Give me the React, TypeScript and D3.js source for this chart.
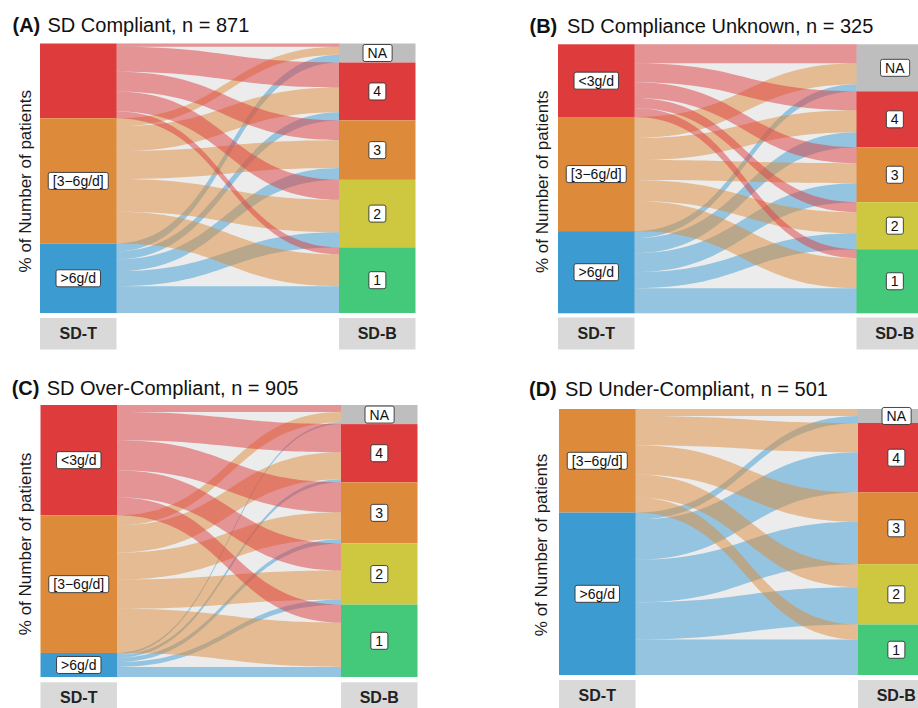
import React, { useEffect, useRef } from "react";
import * as d3 from "d3";

// ---------- data ----------
const fromLevels = ["<3g/d", "[3−6g/d]", ">6g/d"]; // SD-T strata (top to bottom)
const toLevels = ["NA", "4", "3", "2", "1"]; // SD-B strata (top to bottom)
const axisNames = ["SD-T", "SD-B"];
const yAxisTitle = "% of Number of patients";

const panelLetters = ["(A)", "(B)", "(C)", "(D)"];
const panelTitles = [
  "SD Compliant, n = 871",
  "SD Compliance Unknown, n = 325",
  "SD Over-Compliant, n = 905",
  "SD Under-Compliant, n = 501",
];

// % of patients in each flow: rows = SD-T stratum, columns = SD-B stratum (NA, 4, 3, 2, 1)
const flowsA_lt3 = [1.2, 9.3, 7.4, 7.4, 2.6];
const flowsA_3to6 = [3.0, 9.3, 10.4, 12.2, 11.9];
const flowsA_gt6 = [2.9, 3.0, 4.4, 5.6, 10.0];

const flowsB_lt3 = [7.0, 7.0, 5.9, 3.7, 3.3];
const flowsB_3to6 = [7.8, 8.1, 7.4, 7.8, 11.1];
const flowsB_gt6 = [2.6, 5.6, 7.0, 5.9, 9.3];

const flowsC_lt3 = [2.6, 10.3, 11.0, 9.9, 6.6];
const flowsC_3to6 = [3.7, 9.9, 9.9, 10.7, 16.2];
const flowsC_gt6 = [0.7, 1.1, 1.5, 1.8, 3.7];

const flowsD_lt3 = [0, 0, 0, 0, 0];
const flowsD_3to6 = [2.6, 10.9, 10.9, 8.6, 5.6];
const flowsD_gt6 = [2.6, 15.0, 15.8, 13.9, 13.2];

const hiddenLabelsA = ["<3g/d"];

const panelFlows = [
  [flowsA_lt3, flowsA_3to6, flowsA_gt6],
  [flowsB_lt3, flowsB_3to6, flowsB_gt6],
  [flowsC_lt3, flowsC_3to6, flowsC_gt6],
  [flowsD_lt3, flowsD_3to6, flowsD_gt6],
];
const panelHidden = [hiddenLabelsA, [], [], []];

// ---------- styles / layout ----------
const fromColors = ["#DE3B3D", "#DD8A3A", "#3C9CD2"];
const toColors = ["#BEBEBE", "#DE3B3D", "#DD8A3A", "#CDC83F", "#44C87A"];
const PANEL_BG = "#ECECEC";
const STRATUM_W = 76.5;
const FONT = "'Liberation Sans', Arial, sans-serif";
const NARROW = "'Liberation Sans Narrow', 'Arial Narrow', 'Liberation Sans', sans-serif";

const layout = [
  { left: 40, right: 415.5, top: 43.5, bottom: 313, boxTop: 318, boxBottom: 349.5, titleX: 12.5, titleTextX: 47.5, titleY: 32.3, yLabelX: 31 },
  { left: 558, right: 933, top: 44.3, bottom: 313.3, boxTop: 317.5, boxBottom: 349.5, titleX: 529.5, titleTextX: 567, titleY: 33.3, yLabelX: 547.5 },
  { left: 40.5, right: 417.5, top: 405, bottom: 677, boxTop: 682.3, boxBottom: 714, titleX: 11.7, titleTextX: 46.7, titleY: 394.5, yLabelX: 31 },
  { left: 559, right: 934.5, top: 409, bottom: 675, boxTop: 680, boxBottom: 714, titleX: 529, titleTextX: 565, titleY: 395.7, yLabelX: 547 },
];

type Sel = d3.Selection<SVGGElement, unknown, null, undefined>;

function addLabel(g: Sel, text: string, cx: number, cy: number) {
  const lg = g.append("g");
  const rect = lg.append("rect");
  const t = lg
    .append("text")
    .attr("x", cx)
    .attr("y", cy)
    .attr("text-anchor", "middle")
    .attr("dominant-baseline", "central")
    .attr("font-family", FONT)
    .attr("font-size", 14)
    .attr("fill", "#111")
    .text(text);
  const bb = (t.node() as SVGTextElement).getBBox();
  rect
    .attr("x", bb.x - 4.5)
    .attr("y", bb.y - 0.5)
    .attr("width", bb.width + 9)
    .attr("height", bb.height + 1)
    .attr("rx", 2)
    .attr("fill", "#fff")
    .attr("stroke", "#333")
    .attr("stroke-width", 0.9);
}

function drawPanel(root: d3.Selection<SVGSVGElement, unknown, null, undefined>, idx: number) {
  const L = layout[idx];
  const flows = panelFlows[idx];
  const hidden = panelHidden[idx];
  const g = root.append("g") as unknown as Sel;

  const total = d3.sum(flows.flat());
  const y = d3.scaleLinear().domain([0, total]).range([L.top, L.bottom]);
  const xL0 = L.left;
  const xL1 = L.left + STRATUM_W;
  const xR0 = L.right - STRATUM_W;
  const xR1 = L.right;
  const xm = (xL1 + xR0) / 2;

  // panel background
  g.append("rect")
    .attr("x", xL1)
    .attr("y", L.top)
    .attr("width", xR0 - xL1)
    .attr("height", L.bottom - L.top)
    .attr("fill", PANEL_BG);

  // compute lodes
  type Link = { i: number; j: number; v: number; l0: number; l1: number; r0: number; r1: number };
  const links: Link[][] = flows.map((row, i) => row.map((v, j) => ({ i, j, v, l0: 0, l1: 0, r0: 0, r1: 0 })));
  let cum = 0;
  for (let i = 0; i < fromLevels.length; i++) {
    for (let j = 0; j < toLevels.length; j++) {
      const l = links[i][j];
      l.l0 = cum;
      cum += l.v;
      l.l1 = cum;
    }
  }
  cum = 0;
  for (let j = 0; j < toLevels.length; j++) {
    for (let i = 0; i < fromLevels.length; i++) {
      const l = links[i][j];
      l.r0 = cum;
      cum += l.v;
      l.r1 = cum;
    }
  }

  // flows: drawn from the bottom stratum upwards so that upper strata lie on top
  for (let i = fromLevels.length - 1; i >= 0; i--) {
    for (let j = 0; j < toLevels.length; j++) {
      const l = links[i][j];
      if (l.v <= 0) continue;
      const p = d3.path();
      p.moveTo(xL1 - 1, y(l.l0));
      p.bezierCurveTo(xm, y(l.l0), xm, y(l.r0), xR0 + 1, y(l.r0));
      p.lineTo(xR0 + 1, y(l.r1));
      p.bezierCurveTo(xm, y(l.r1), xm, y(l.l1), xL1 - 1, y(l.l1));
      p.closePath();
      g.append("path").attr("d", p.toString()).attr("fill", fromColors[i]).attr("fill-opacity", 0.5);
    }
  }

  // left strata
  cum = 0;
  fromLevels.forEach((name, i) => {
    const v = d3.sum(flows[i]);
    if (v <= 0) return;
    const y0 = y(cum);
    const y1 = y(cum + v);
    cum += v;
    g.append("rect").attr("x", xL0).attr("y", y0).attr("width", STRATUM_W).attr("height", y1 - y0).attr("fill", fromColors[i]);
  });
  // right strata
  cum = 0;
  toLevels.forEach((name, j) => {
    const v = d3.sum(flows, (r) => r[j]);
    if (v <= 0) return;
    const y0 = y(cum);
    const y1 = y(cum + v);
    cum += v;
    g.append("rect").attr("x", xR0).attr("y", y0).attr("width", STRATUM_W).attr("height", y1 - y0).attr("fill", toColors[j]);
  });

  // labels
  cum = 0;
  fromLevels.forEach((name, i) => {
    const v = d3.sum(flows[i]);
    if (v <= 0) return;
    const c = y(cum + v / 2);
    cum += v;
    if (hidden.includes(name)) return;
    addLabel(g, name, (xL0 + xL1) / 2, c);
  });
  cum = 0;
  toLevels.forEach((name, j) => {
    const v = d3.sum(flows, (r) => r[j]);
    if (v <= 0) return;
    const c = y(cum + v / 2);
    cum += v;
    addLabel(g, name, (xR0 + xR1) / 2, c);
  });

  // x-axis boxes
  [
    [xL0, axisNames[0]],
    [xR0, axisNames[1]],
  ].forEach(([x, name]) => {
    g.append("rect")
      .attr("x", x as number)
      .attr("y", L.boxTop)
      .attr("width", STRATUM_W)
      .attr("height", L.boxBottom - L.boxTop)
      .attr("fill", "#D9D9D9");
    g.append("text")
      .attr("x", (x as number) + STRATUM_W / 2)
      .attr("y", L.boxTop + 21)
      .attr("text-anchor", "middle")
      .attr("font-family", NARROW)
      .attr("font-weight", "bold")
      .attr("font-size", 16)
      .attr("fill", "#222")
      .text(name as string);
  });

  // y-axis title
  g.append("text")
    .attr("transform", `translate(${L.yLabelX},${(L.top + L.bottom) / 2 + 3}) rotate(-90)`)
    .attr("text-anchor", "middle")
    .attr("font-family", FONT)
    .attr("font-size", 17)
    .attr("fill", "#1a1a1a")
    .text(yAxisTitle);

  // title
  const t = g.append("text").attr("y", L.titleY).attr("font-family", FONT).attr("font-size", 20).attr("fill", "#111");
  t.append("tspan").attr("x", L.titleX).attr("font-weight", "bold").text(panelLetters[idx]);
  t.append("tspan").attr("x", L.titleTextX).text(panelTitles[idx]);
}

export default function App() {
  const ref = useRef<SVGSVGElement>(null);
  useEffect(() => {
    if (!ref.current) return;
    const svg = d3.select(ref.current);
    svg.selectAll("*").remove();
    for (let k = 0; k < 4; k++) drawPanel(svg, k);
  }, []);
  return (
    <svg
      ref={ref}
      width={918}
      height={708}
      style={{ position: "absolute", left: 0, top: 0, background: "#fff", overflow: "hidden" }}
    />
  );
}
